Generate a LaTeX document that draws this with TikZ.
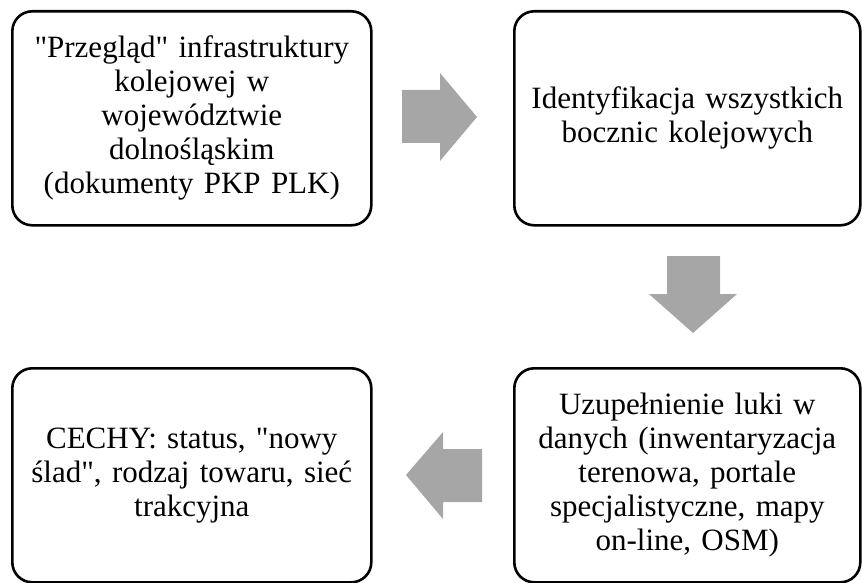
\documentclass[tikz,border=0pt]{standalone}
\usepackage{fontspec}
\setmainfont{Liberation Serif}
\begin{document}
\begin{tikzpicture}[x=1pt,y=-1pt,
  stepbox/.style={draw=black, line width=2.6pt, rounded corners=20pt, fill=white,
    minimum height=214pt, inner sep=0pt, anchor=north west,
    align=center, font=\fontsize{31}{34}\selectfont},
  leftbox/.style={stepbox, minimum width=359pt, text width=345pt},
  rightbox/.style={stepbox, minimum width=346pt, text width=340pt},
  bigarrow/.style={fill=black!35, draw=none}]
\useasboundingbox (0,0) rectangle (862,583);
\node[leftbox] (a) at (11,10) {\textquotedbl Przegląd\textquotedbl{} infrastruktury\\kolejowej w\\województwie\\dolnośląskim\\(dokumenty PKP PLK)};
\node[rightbox] (b) at (513,10) {Identyfikacja wszystkich\\bocznic kolejowych};
\node[rightbox] (c) at (513,367) {Uzupełnienie luki w\\danych (inwentaryzacja\\terenowa, portale\\specjalistyczne, mapy\\on-line, OSM)};
\node[leftbox] (d) at (11,367) {CECHY: status, \textquotedbl nowy\\ślad\textquotedbl, rodzaj towaru, sieć\\trakcyjna};
% right arrow
\fill[bigarrow] (402,90) -- (440,90) -- (440,73) -- (477,117) -- (440,161) -- (440,143) -- (402,143) -- cycle;
% down arrow
\fill[bigarrow] (667,256) -- (720,256) -- (720,294) -- (737,294) -- (693,333) -- (649,294) -- (667,294) -- cycle;
% left arrow
\fill[bigarrow] (482,449) -- (443,449) -- (443,432) -- (406,475) -- (443,519) -- (443,502) -- (482,502) -- cycle;
\end{tikzpicture}
\end{document}
